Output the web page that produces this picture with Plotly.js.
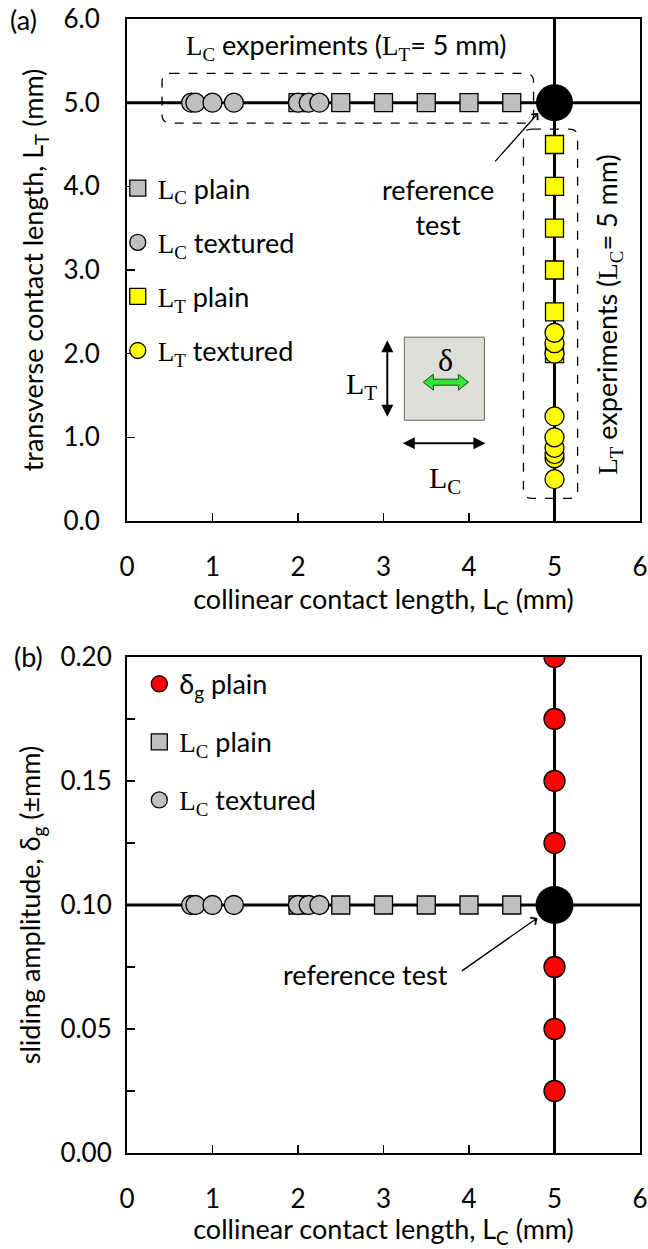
<!DOCTYPE html>
<html><head><meta charset="utf-8">
<script src="https://cdn.plot.ly/plotly-3.0.1.min.js"></script>
<style>html,body{margin:0;padding:0;background:#fff}</style>
</head><body><div id="chart" style="width:648px;height:1249px"></div>
<script>
// ---- data ----
const refLC = 5;          // reference collinear length (mm)
const refLT = 5;          // reference transverse length (mm)
const refDelta = 0.10;    // reference sliding amplitude (mm)
const lcPlainX = [2.0, 2.5, 3.0, 3.5, 4.0, 4.5];
const lcTexturedX = [0.75, 0.8, 1.0, 1.25, 2.0, 2.125, 2.25];
const ltPlainY = [2.0, 2.5, 3.0, 3.5, 4.0, 4.5];
const ltTexturedY = [0.5, 0.75, 0.8, 0.875, 1.0, 1.25, 2.0, 2.125, 2.25];
const deltaPlainY = [0.025, 0.05, 0.075, 0.125, 0.15, 0.175, 0.2];
const xTicks = [0, 1, 2, 3, 4, 5, 6];

const SANS = 'Lato, "Open Sans", sans-serif';
const SER = 'Liberation Serif';
const L = s => `<span style="font-family:${SER}">L<sub>${s}</sub></span>`;

const rep = (arr, val) => arr.map(() => val);

const GRAY = '#BFBFBF', YEL = '#FFFF00', RED = '#FF0000';
const mline = {color: '#000', width: 1.3};

const traces = [
  {x: lcPlainX, y: rep(lcPlainX, refLT), type: 'scatter', mode: 'markers', name: L('C') + ' plain',
   marker: {symbol: 'square', size: 18, color: GRAY, line: mline}, xaxis: 'x', yaxis: 'y', legend: 'legend', legendgroup: 'a1'},
  {x: lcTexturedX, y: rep(lcTexturedX, refLT), type: 'scatter', mode: 'markers', name: L('C') + ' textured',
   marker: {symbol: 'circle', size: 19, color: GRAY, line: mline}, xaxis: 'x', yaxis: 'y', legend: 'legend', legendgroup: 'a2'},
  {x: rep(ltPlainY, refLC), y: ltPlainY, type: 'scatter', mode: 'markers', name: L('T') + ' plain',
   marker: {symbol: 'square', size: 18, color: YEL, line: mline}, xaxis: 'x', yaxis: 'y', legend: 'legend', legendgroup: 'a3'},
  {x: rep(ltTexturedY, refLC), y: ltTexturedY, type: 'scatter', mode: 'markers', name: L('T') + ' textured',
   marker: {symbol: 'circle', size: 19, color: YEL, line: mline}, xaxis: 'x', yaxis: 'y', legend: 'legend', legendgroup: 'a4'},
  {x: [refLC], y: [refLT], type: 'scatter', mode: 'markers', showlegend: false,
   marker: {symbol: 'circle', size: 37, color: '#000'}, xaxis: 'x', yaxis: 'y'},

  {x: rep(deltaPlainY, refLC), y: deltaPlainY, type: 'scatter', mode: 'markers', name: 'δ<sub>g</sub> plain',
   marker: {symbol: 'circle', size: 21, color: RED, line: mline}, xaxis: 'x2', yaxis: 'y2', legend: 'legend2', legendgroup: 'b1'},
  {x: lcPlainX, y: rep(lcPlainX, refDelta), type: 'scatter', mode: 'markers', name: L('C') + ' plain',
   marker: {symbol: 'square', size: 18, color: GRAY, line: mline}, xaxis: 'x2', yaxis: 'y2', legend: 'legend2', legendgroup: 'b2'},
  {x: lcTexturedX, y: rep(lcTexturedX, refDelta), type: 'scatter', mode: 'markers', name: L('C') + ' textured',
   marker: {symbol: 'circle', size: 19, color: GRAY, line: mline}, xaxis: 'x2', yaxis: 'y2', legend: 'legend2', legendgroup: 'b3'},
  {x: [refLC], y: [refDelta], type: 'scatter', mode: 'markers', showlegend: false,
   marker: {symbol: 'circle', size: 38, color: '#000'}, xaxis: 'x2', yaxis: 'y2'}
];

// pixel -> data helper for the schematic inset in panel (a) (decoration only)
const PX0 = 127, PXU = 85.4, PY0 = 520.7, PYU = 83.6;
const dx = p => (p - PX0) / PXU;
const dy = p => (PY0 - p) / PYU;

function rrect(x0, x1, y0, y1, rx, ry) {
  return `M${x0+rx},${y1} L${x1-rx},${y1} Q${x1},${y1} ${x1},${y1-ry} L${x1},${y0+ry} Q${x1},${y0} ${x1-rx},${y0} ` +
         `L${x0+rx},${y0} Q${x0},${y0} ${x0},${y0+ry} L${x0},${y1-ry} Q${x0},${y1} ${x0+rx},${y1} Z`;
}
const greenPts = [[423,382],[433,374],[433,379],[458,379],[458,374],[468,382],[458,390],[458,385],[433,385],[433,390]];
const greenPath = 'M' + greenPts.map(p => dx(p[0]).toFixed(4) + ',' + dy(p[1]).toFixed(4)).join(' L') + ' Z';

const shapes = [
  {type: 'line', xref: 'x', yref: 'y', x0: 0, x1: 6, y0: refLT, y1: refLT, line: {color: '#000', width: 3}, layer: 'below'},
  {type: 'line', xref: 'x', yref: 'y', x0: refLC, x1: refLC, y0: 0, y1: 6, line: {color: '#000', width: 3}, layer: 'below'},
  {type: 'line', xref: 'x2', yref: 'y2', x0: 0, x1: 6, y0: refDelta, y1: refDelta, line: {color: '#000', width: 3}, layer: 'below'},
  {type: 'line', xref: 'x2', yref: 'y2', x0: refLC, x1: refLC, y0: 0, y1: 0.2, line: {color: '#000', width: 3}, layer: 'below'},
  {type: 'path', xref: 'x', yref: 'y', path: rrect(0.41, 4.755, 4.755, 5.35, 0.1, 0.1), line: {color: '#000', width: 1.3, dash: 'dash'}},
  {type: 'path', xref: 'x', yref: 'y', path: rrect(4.637, 5.27, 0.27, 4.685, 0.1, 0.1), line: {color: '#000', width: 1.3, dash: 'dash'}},
  {type: 'rect', xref: 'x', yref: 'y', x0: dx(404), x1: dx(484), y0: dy(420), y1: dy(337), fillcolor: '#DEDED8', line: {color: '#666', width: 1}},
  {type: 'path', xref: 'x', yref: 'y', path: greenPath, fillcolor: '#33E633', line: {color: '#145214', width: 1}}
];

const tf = {family: SANS, size: 27, color: '#000'};
const tk = {family: SANS, size: 26, color: '#000'};
const annotations = [
  {xref: 'paper', yref: 'paper', x: -0.232, y: 1.0, xanchor: 'left', yanchor: 'middle', text: '(a)', showarrow: false, font: tf},
  {xref: 'paper', yref: 'paper', x: -0.225, y: 0.4374, xanchor: 'left', yanchor: 'middle', text: '(b)', showarrow: false, font: tf},
  {xref: 'x', yref: 'y', x: 2.56, y: 5.67, text: L('C') + ' experiments (' + L('T') + '= 5 mm)', showarrow: false, font: tf},
  {xref: 'x', yref: 'y', x: 5.63, y: 2.47, textangle: -90, text: L('T') + ' experiments (' + L('C') + '= 5 mm)', showarrow: false, font: tf},
  {xref: 'x', yref: 'y', x: 3.64, y: 3.75, text: 'reference<br>test', showarrow: false, font: tf},
  {xref: 'x', yref: 'y', x: 4.81, y: 4.877, axref: 'x', ayref: 'y', ax: 4.29, ay: 4.28, text: '', showarrow: true,
   arrowhead: 4, arrowsize: 1.3, arrowwidth: 1.3, arrowcolor: '#000'},
  {xref: 'x2', yref: 'y2', x: 2.79, y: 0.0718, text: 'reference test', showarrow: false, font: tf},
  {xref: 'x2', yref: 'y2', x: 4.80, y: 0.0948, axref: 'x2', ayref: 'y2', ax: 3.90, ay: 0.073, text: '', showarrow: true,
   arrowhead: 4, arrowsize: 1.3, arrowwidth: 1.3, arrowcolor: '#000'},
  // inset schematic
  {xref: 'x', yref: 'y', x: dx(387), y: dy(340), axref: 'x', ayref: 'y', ax: dx(387), ay: dy(418), text: '', showarrow: true,
   arrowside: 'end+start', arrowhead: 2, arrowsize: 1.2, arrowwidth: 2, arrowcolor: '#000'},
  {xref: 'x', yref: 'y', x: dx(485), y: dy(443), axref: 'x', ayref: 'y', ax: dx(401), ay: dy(443), text: '', showarrow: true,
   arrowside: 'end+start', arrowhead: 2, arrowsize: 1.2, arrowwidth: 2, arrowcolor: '#000'},
  {xref: 'x', yref: 'y', x: dx(361), y: dy(386), text: L('T'), showarrow: false, font: {family: SER, size: 30, color: '#000'}},
  {xref: 'x', yref: 'y', x: dx(445), y: dy(480), text: L('C'), showarrow: false, font: {family: SER, size: 30, color: '#000'}},
  {xref: 'x', yref: 'y', x: dx(445), y: dy(360), text: 'δ', showarrow: false, font: {family: SER, size: 32, color: '#000'}}
];

const axBase = {
  showline: true, linecolor: '#000', linewidth: 2, mirror: true, showgrid: false, zeroline: false,
  ticks: 'inside', ticklen: 8, tickwidth: 1.5, tickcolor: '#000', tickfont: tk, automargin: false
};

const layout = {
  width: 648, height: 1249,
  margin: {l: 127, r: 8, t: 19, b: 96},
  paper_bgcolor: '#fff', plot_bgcolor: '#fff',
  font: {family: SANS, size: 26, color: '#000'},
  xaxis: Object.assign({}, axBase, {domain: [0, 1], anchor: 'y', range: [0, 6], tickvals: xTicks, ticklabelstandoff: 22,
    title: {text: 'collinear contact length, L<sub>C</sub> (mm)', font: tf, standoff: 2}}),
  yaxis: Object.assign({}, axBase, {domain: [0.5573, 1], anchor: 'x', range: [0, 6], dtick: 1, tickformat: '.1f', ticklabelstandoff: 20,
    title: {text: 'transverse contact length, L<sub>T</sub> (mm)', font: tf, standoff: 12}}),
  xaxis2: Object.assign({}, axBase, {domain: [0, 1], anchor: 'y2', range: [0, 6], tickvals: xTicks, ticklabelstandoff: 22,
    title: {text: 'collinear contact length, L<sub>C</sub> (mm)', font: tf, standoff: 8}}),
  yaxis2: Object.assign({}, axBase, {domain: [0, 0.4374], anchor: 'x2', range: [0, 0.2], dtick: 0.05, tickformat: '.2f', ticklabelstandoff: 8,
    minor: {dtick: 0.025, ticks: 'inside', ticklen: 8, tickwidth: 1.5, tickcolor: '#000'},
    title: {text: 'sliding amplitude, δ<sub>g</sub> (±mm)', font: tf, standoff: 12}}),
  legend: {x: -0.018, xanchor: 'left', y: 0.872, yanchor: 'top', bgcolor: 'rgba(0,0,0,0)', font: tf,
    tracegroupgap: 16, traceorder: 'grouped', itemclick: false},
  legend2: {x: 0.024, xanchor: 'left', y: 0.435, yanchor: 'top', bgcolor: 'rgba(0,0,0,0)', font: tf,
    tracegroupgap: 20, traceorder: 'grouped', itemclick: false},
  shapes: shapes,
  annotations: annotations,
  showlegend: true
};

Plotly.newPlot('chart', traces, layout, {displayModeBar: false, staticPlot: true});
</script>
</body></html>
